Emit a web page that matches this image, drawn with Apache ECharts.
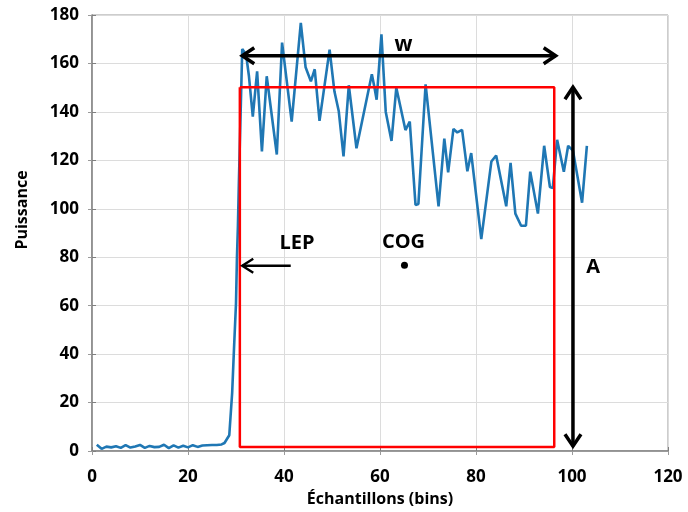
<!DOCTYPE html>
<html><head><meta charset="utf-8">
<script src="https://cdn.jsdelivr.net/npm/echarts@6/dist/echarts.min.js"></script>
<style>html,body{margin:0;padding:0;background:#fff}#c{width:688px;height:512px}</style>
</head><body><div id="c"></div>
<script>
// ---- data ----
const sampleX = [1,2,3,4,5,6,7,8,9,10,11,12,13,14,15,16,17,18,19,20,21,22,23,24,25,26,27,
  27.6,28.6,29.2,29.6,30.0,30.2,30.4,30.6,31.3,32.1,32.7,33.5,34.4,35.4,36.4,38.5,39.6,41.6,
  43.5,44.5,45.6,46.4,47.4,49.5,50.5,51.4,52.4,53.5,55.1,58.3,58.8,59.3,60.3,61.2,62.4,63.4,
  65.3,66.2,67.4,68.0,69.5,72.2,73.4,74.2,75.3,76.1,77.1,78.2,79.0,81.1,83.2,84.2,86.3,87.2,
  88.2,89.4,90.4,91.3,92.9,94.2,95.4,96.0,96.9,98.3,99.2,100.2,102.1,103.1];
const power = [2.6,0.9,1.8,1.5,2.0,1.3,2.4,1.4,1.9,2.5,1.3,2.1,1.6,1.7,2.6,1.2,2.3,1.4,2.2,1.5,2.4,1.7,2.3,2.4,2.5,2.5,2.7,
  3.3,6.5,24,43,61,80,93,111,166,163.7,154.7,138,156.7,123.7,154.7,122.4,168.6,136,
  176.7,158.4,152.6,157.6,136.3,165.7,148.5,140.4,121.6,151,125,155.5,150.6,145,172,140,128,150,
  132.5,136,101.6,102,151.4,101,129,115,133,131.5,132.6,115.5,123,87.5,119.5,122,101,119,
  98,93,93,115.3,98,126,109,108.6,128.5,115.3,126,124,102.5,126];
const xTicks = [0,20,40,60,80,100,120];
const yTicks = [0,20,40,60,80,100,120,140,160,180];
// red window: [x1, y1, x2, y2]
const windowBox = [30.8, 1.6, 96.3, 150.2];
// arrows: [x1, y1, x2, y2, heads(1=start,2=end,3=both), width]
const wArrow = [31.3, 163.2, 96.6, 163.2, 3, 3.5];
const aArrow = [100.2, 150.2, 100.2, 2.0, 3, 3.5];
const lepArrow = [41.4, 76.5, 31.3, 76.5, 2, 2.4];
// labels: [x, y, text]
const labelW = [64.9, 167.8, 'w'];
const labelLEP = [42.7, 85.7, 'LEP'];
const labelCOG = [64.9, 86.1, 'COG'];
const labelA = [104.4, 75.9, 'A'];
const cogPoint = [65.1, 76.7];

const FONT = 'Open Sans';
const chart = echarts.init(document.getElementById('c'), null, {renderer:'canvas'});
const lineData = sampleX.map((x,i)=>[x, power[i]]);
const boxData = [[windowBox[0],windowBox[3]],[windowBox[2],windowBox[3]],[windowBox[2],windowBox[1]],[windowBox[0],windowBox[1]],[windowBox[0],windowBox[3]]];

function renderArrow(params, api){
  const p1 = api.coord([api.value(0), api.value(1)]);
  const p2 = api.coord([api.value(2), api.value(3)]);
  const heads = api.value(4), w = api.value(5);
  const dx = p2[0]-p1[0], dy = p2[1]-p1[1];
  const len = Math.hypot(dx,dy), ux = dx/len, uy = dy/len;
  const L = w>3 ? 12 : 11, H = w>3 ? 8 : 7;
  const children = [{type:'line', shape:{x1:p1[0],y1:p1[1],x2:p2[0],y2:p2[1]}, style:{stroke:'#000',lineWidth:w}}];
  function head(tip, dirx, diry){
    const bx = tip[0]+dirx*L, by = tip[1]+diry*L;
    const px = -diry, py = dirx;
    children.push({type:'polyline', shape:{points:[[bx+px*H,by+py*H],[tip[0],tip[1]],[bx-px*H,by-py*H]]},
      style:{stroke:'#000',lineWidth:w,fill:null,lineJoin:'miter'}});
  }
  if (heads & 1) head(p1, ux, uy);
  if (heads & 2) head(p2, -ux, -uy);
  return {type:'group', children};
}

function textSeries(lbl, size){
  return {type:'scatter', data:[[lbl[0],lbl[1]]], symbolSize:0, silent:true, z:6,
    itemStyle:{opacity:1},
    label:{show:true, position:'inside', formatter:lbl[2], color:'#000', opacity:1,
      fontFamily:FONT, fontWeight:'bold', fontSize:size}};
}

chart.setOption({
  animation:false,
  grid:{left:92, right:20, top:15, bottom:56, show:true, borderColor:'#9a9a9a', borderWidth:1},
  xAxis:[{type:'value', min:0, max:120, interval:20,
    name:'Échantillons (bins)', nameLocation:'middle', nameGap:40,
    nameTextStyle:{fontFamily:FONT, fontWeight:'bold', fontSize:16, color:'#000'},
    axisLine:{show:true, lineStyle:{color:'#7f7f7f', width:1.5}},
    axisTick:{show:true, inside:true, length:4, lineStyle:{color:'#7f7f7f'}},
    axisLabel:{margin:18, fontFamily:FONT, fontWeight:'bold', fontSize:17, color:'#000'},
    splitLine:{show:true, lineStyle:{color:'#dcdcdc', width:1}}},
   {type:'value', min:0, max:120, interval:20, position:'top',
    axisLine:{show:true, lineStyle:{color:'#9a9a9a'}},
    axisTick:{show:true, inside:true, length:4, lineStyle:{color:'#9a9a9a'}},
    axisLabel:{show:false}, splitLine:{show:false}}],
  yAxis:[{type:'value', min:0, max:180, interval:20,
    name:'Puissance', nameLocation:'middle', nameGap:62, nameRotate:90,
    nameTextStyle:{fontFamily:FONT, fontWeight:'bold', fontSize:16, color:'#000', padding:[0,0,0,46]},
    axisLine:{show:true, lineStyle:{color:'#7f7f7f', width:1.5}},
    axisTick:{show:true, inside:true, length:4, lineStyle:{color:'#7f7f7f'}},
    axisLabel:{margin:13, fontFamily:FONT, fontWeight:'bold', fontSize:17, color:'#000'},
    splitLine:{show:true, lineStyle:{color:'#dcdcdc', width:1}}},
   {type:'value', min:0, max:180, interval:20, position:'right',
    axisLine:{show:true, lineStyle:{color:'#9a9a9a'}},
    axisTick:{show:true, inside:true, length:4, lineStyle:{color:'#9a9a9a'}},
    axisLabel:{show:false}, splitLine:{show:false}}],
  series:[
    {type:'line', data:lineData, showSymbol:false, z:3,
     lineStyle:{color:'#1f77b4', width:2.6}},
    {type:'line', data:boxData, showSymbol:false, z:4,
     lineStyle:{color:'#ff0000', width:2.5}},
    {type:'custom', renderItem:renderArrow, z:5,
     encode:{x:[0,2], y:[1,3]},
     data:[wArrow, aArrow, lepArrow]},
    {type:'scatter', data:[cogPoint], symbol:'circle', symbolSize:7, z:6,
     itemStyle:{color:'#000', opacity:1}},
    textSeries(labelW, 21),
    textSeries(labelLEP, 20),
    textSeries(labelCOG, 20),
    textSeries(labelA, 20)
  ]
});
</script></body></html>
